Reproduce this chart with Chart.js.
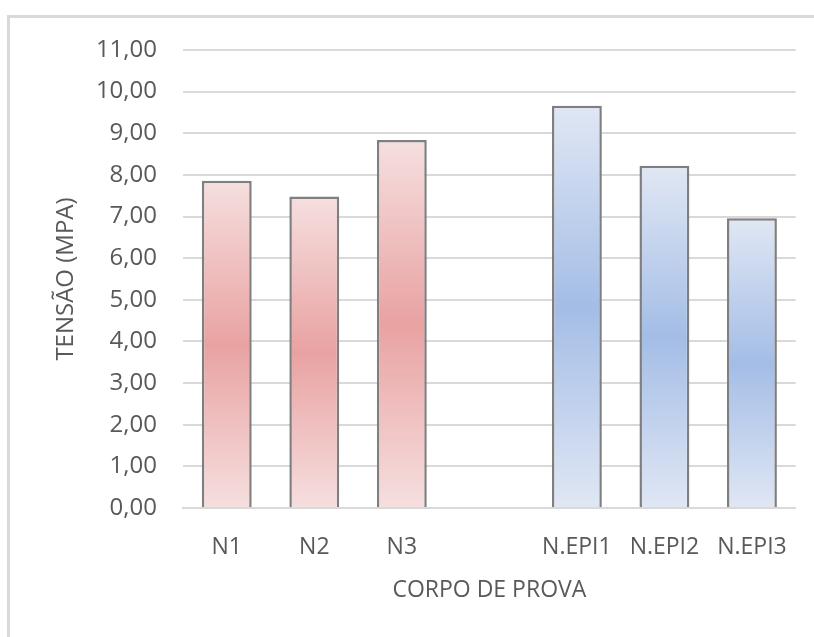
<!DOCTYPE html>
<html>
<head>
<meta charset="utf-8">
<script src="https://cdn.jsdelivr.net/npm/chart.js@4"></script>
<style>
  html, body { margin: 0; padding: 0; background: #fff; }
  #wrap { width: 814px; height: 637px; }
</style>
</head>
<body>
<div id="wrap"><canvas id="tensao"></canvas></div>
<script>
const categories = ['N1', 'N2', 'N3', '', 'N.EPI1', 'N.EPI2', 'N.EPI3'];
const tensao = [7.86, 7.48, 8.84, null, 9.66, 8.22, 6.96];
const yTicks = [0, 1, 2, 3, 4, 5, 6, 7, 8, 9, 10, 11];

const grey = '#595959';
const fontFamily = '"Open Sans", Lato, sans-serif';

// light at the ends, deeper in the middle, like the office gradient fill
function barFill(context) {
  const chart = context.chart;
  if (!chart.chartArea || context.raw == null) return 'transparent';
  const y = chart.scales.y;
  const top = y.getPixelForValue(context.raw);
  const bottom = y.getPixelForValue(0);
  const g = chart.ctx.createLinearGradient(0, top, 0, bottom);
  if (context.dataIndex < 3) {
    g.addColorStop(0, '#f6dfdf');
    g.addColorStop(0.5, '#e9a2a2');
    g.addColorStop(1, '#f6dfdf');
  } else {
    g.addColorStop(0, '#e0e7f4');
    g.addColorStop(0.5, '#a4bde6');
    g.addColorStop(1, '#e0e7f4');
  }
  return g;
}

const frame = {
  id: 'frame',
  beforeDraw(chart) {
    const c = chart.ctx;
    c.save();
    c.strokeStyle = '#d9d9d9';
    c.lineWidth = 3;
    c.beginPath();
    c.moveTo(8.5, 640);
    c.lineTo(8.5, 16.5);
    c.lineTo(820, 16.5);
    c.stroke();
    c.restore();
  }
};

new Chart(document.getElementById('tensao'), {
  type: 'bar',
  data: {
    labels: categories,
    datasets: [
      {
        data: tensao,
        backgroundColor: barFill,
        borderColor: '#7f7f7f',
        borderWidth: 2.5,
        barPercentage: 0.57,
        categoryPercentage: 1,
      },
    ],
  },
  plugins: [frame],
  options: {
    responsive: true,
    maintainAspectRatio: false,
    animation: false,
    layout: { padding: { left: 30, top: 50, right: 18, bottom: 33 } },
    plugins: { legend: { display: false }, tooltip: { enabled: false } },
    scales: {
      x: {
        grid: { display: false, drawTicks: false },
        border: { color: '#d9d9d9', width: 2 },
        ticks: { color: grey, padding: 26, maxRotation: 0, font: { family: fontFamily, size: 23 } },
        title: {
          display: true,
          text: 'CORPO DE PROVA',
          color: grey,
          font: { family: fontFamily, size: 23 },
          padding: { top: 10, bottom: 0 },
        },
        afterFit(scale) { scale.height = 637 - 33 - 508; },
      },
      y: {
        min: 0,
        max: 11,
        afterBuildTicks(scale) { scale.ticks = yTicks.map((v) => ({ value: v })); },
        grid: { color: '#d9d9d9', lineWidth: 2, drawTicks: false },
        border: { display: false },
        ticks: {
          color: grey,
          padding: 26,
          font: { family: fontFamily, size: 24 },
          callback: (v) => v.toFixed(2).replace('.', ','),
        },
        title: {
          display: true,
          text: 'TENSÃO (MPA)',
          color: grey,
          font: { family: fontFamily, size: 24 },
          padding: { top: 22, bottom: 0 },
        },
        afterFit(scale) { scale.width = 183 - 30; },
      },
    },
  },
});
</script>
</body>
</html>
